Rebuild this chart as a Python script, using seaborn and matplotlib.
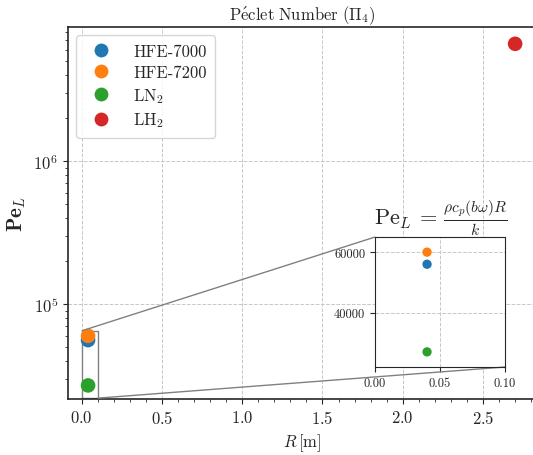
import pandas as pd
import matplotlib
matplotlib.use('Agg')
import matplotlib.pyplot as plt
import seaborn as sns
from mpl_toolkits.axes_grid1.inset_locator import mark_inset

# Data
fluids = ['HFE-7000', 'HFE-7200', 'LN$_2$', 'LH$_2$']
radius = [0.04, 0.04, 0.04, 2.70]          # R [m]
peclet = [56000, 60000, 27000, 6.6e6]      # Pe_L
inset_xticks = [0.00, 0.05, 0.10]
inset_yticks = [40000, 60000]

df = pd.DataFrame({'fluid': fluids, 'R': radius, 'Pe': peclet})
palette = dict(zip(fluids, sns.color_palette('tab10', 4)))

sns.set_style('ticks')
plt.rcParams['font.family'] = ['cmr10', 'DejaVu Serif']
plt.rcParams['mathtext.fontset'] = 'cm'
plt.rcParams['axes.formatter.use_mathtext'] = True
plt.rcParams['axes.unicode_minus'] = False

fig = plt.figure(figsize=(5.33, 4.56), dpi=100)
ax = fig.add_axes([0.1276, 0.1228, 0.878, 0.8158])

sns.scatterplot(data=df, x='R', y='Pe', hue='fluid', palette=palette,
                s=110, edgecolor='none', ax=ax, zorder=3)
ax.set_yscale('log')
ax.set_xlim(-0.085, 2.83)
ax.set_ylim(21700, 8.65e6)
ax.grid(True, which='major', ls='--', color='0.78', lw=0.7)
ax.set_axisbelow(True)
ax.minorticks_on()
ax.tick_params(which='both', direction='out', labelsize=12)
ax.set_xlabel(r'$R\,[\mathrm{m}]$', fontsize=12)
ax.set_ylabel(r'$\mathbf{Pe}_L$', fontsize=15)
ax.set_title(r'$\mathrm{P\acute{e}clet\ Number}\ (\Pi_4)$', fontsize=12)
for sp in ax.spines.values():
    sp.set_linewidth(1.2)

leg = ax.legend(loc='upper left', fontsize=12, markerscale=0.95,
                frameon=True, borderpad=0.5, labelspacing=0.35, handletextpad=0.9)
leg.get_frame().set_edgecolor('0.8')

# Inset zoom on the small-radius fluids
axins = fig.add_axes([0.7036, 0.193, 0.244, 0.285])
sns.scatterplot(data=df, x='R', y='Pe', hue='fluid', palette=palette,
                s=45, edgecolor='none', ax=axins, legend=False, zorder=3)
axins.set_xlim(0.0, 0.10)
axins.set_ylim(22000, 65000)
axins.set_xticks(inset_xticks)
axins.set_yticks(inset_yticks)
axins.set_xticklabels([f'{v:.2f}' for v in inset_xticks])
axins.set_yticklabels([f'{v:d}' for v in inset_yticks])
axins.tick_params(labelsize=9)
axins.grid(True, ls='--', color='0.78', lw=0.7)
axins.set_axisbelow(True)
axins.set_xlabel('')
axins.set_ylabel('')
axins.set_title(r'$\mathrm{Pe}_L\, =\, \frac{\rho c_p (b\omega) R}{k}$', fontsize=16, pad=3)

mark_inset(ax, axins, loc1=2, loc2=4, fc='none', ec='0.5', lw=1.0)

fig.savefig('out.png', dpi=100)
